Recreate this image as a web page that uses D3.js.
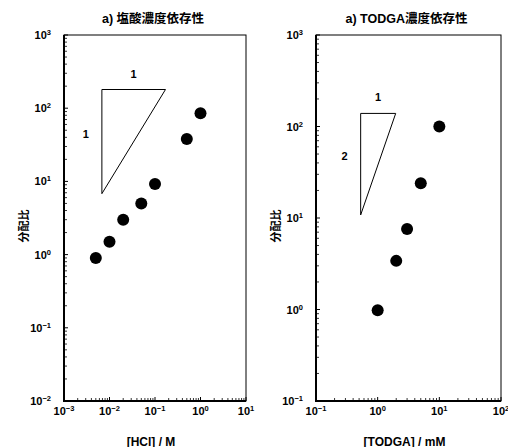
<!DOCTYPE html>
<html>
<head>
<meta charset="utf-8">
<script src="https://cdn.jsdelivr.net/npm/d3@7"></script>
<style>
  body { margin: 0; background: #fff; }
  text { font-family: "Liberation Sans", Arial, "Noto Sans CJK JP", sans-serif; font-weight: bold; }
</style>
</head>
<body>
<div id="chart"></div>
<script>
// left panel: HCl dependence
const hclConc = [0.005, 0.01, 0.02, 0.05, 0.1, 0.5, 1];
const hclD = [0.9, 1.5, 3.0, 5.0, 9.2, 38, 85];
const hclXTicks = [-3, -2, -1, 0, 1];
const hclYTicks = [-2, -1, 0, 1, 2, 3];
// slope guide (1:1) as [x, y] corners: bottom, top-left, top-right
const hclGuide = [[0.0068, 6.8], [0.0068, 180], [0.17, 180]];

// right panel: TODGA dependence
const todgaConc = [1, 2, 3, 5, 10];
const todgaD = [0.98, 3.4, 7.6, 24, 100];
const todgaXTicks = [-1, 0, 1, 2];
const todgaYTicks = [-1, 0, 1, 2, 3];
// slope guide (2:1)
const todgaGuide = [[0.53, 10.8], [0.53, 139], [1.96, 139]];

const width = 508;
const height = 447;

const svg = d3.select('#chart')
    .append('svg')
    .attr('width', width)
    .attr('height', height);

const sup = n => (n < 0 ? '\u2212' : '') + Math.abs(n);

const drawPanel = p => {
    const x = d3.scaleLog().domain(p.xDomain).range([p.left, p.right]);
    const y = d3.scaleLog().domain(p.yDomain).range([p.bottom, p.top]);
    const g = svg.append('g');

    // title
    g.append('text')
        .attr('x', (p.left + p.right) / 2 - 2)
        .attr('y', 23)
        .attr('text-anchor', 'middle')
        .style('font-size', '12.5px')
        .text(p.title);

    // frame
    g.append('rect')
        .attr('x', p.left).attr('y', p.top)
        .attr('width', p.right - p.left).attr('height', p.bottom - p.top)
        .attr('fill', 'none').attr('stroke', '#000').attr('stroke-width', 1);
    g.append('path')
        .attr('d', `M${p.left},${p.top}V${p.bottom}H${p.right}`)
        .attr('fill', 'none').attr('stroke', '#000').attr('stroke-width', 2);

    // ticks (inward), decades major, 2..9 minor
    const minor = (dom) => {
        const out = [];
        const lo = Math.round(Math.log10(dom[0])), hi = Math.round(Math.log10(dom[1]));
        for (let e = lo; e < hi; e++) {
            for (let k = 2; k <= 9; k++) out.push(k * Math.pow(10, e));
        }
        return out;
    };
    g.selectAll('.xmin').data(minor(p.xDomain)).enter().append('line')
        .attr('x1', d => x(d)).attr('x2', d => x(d))
        .attr('y1', p.bottom).attr('y2', p.bottom - 3)
        .attr('stroke', '#000').attr('stroke-width', 0.8);
    g.selectAll('.xmaj').data(p.xTicks).enter().append('line')
        .attr('x1', d => x(Math.pow(10, d))).attr('x2', d => x(Math.pow(10, d)))
        .attr('y1', p.bottom).attr('y2', p.bottom - 4)
        .attr('stroke', '#000').attr('stroke-width', 1);
    g.selectAll('.ymin').data(minor(p.yDomain)).enter().append('line')
        .attr('x1', p.left).attr('x2', p.left + 3)
        .attr('y1', d => y(d)).attr('y2', d => y(d))
        .attr('stroke', '#000').attr('stroke-width', 0.8);
    g.selectAll('.ymaj').data(p.yTicks).enter().append('line')
        .attr('x1', p.left).attr('x2', p.left + 4)
        .attr('y1', d => y(Math.pow(10, d))).attr('y2', d => y(Math.pow(10, d)))
        .attr('stroke', '#000').attr('stroke-width', 1);

    // tick labels
    const xl = g.selectAll('.xl').data(p.xTicks).enter().append('text')
        .attr('x', d => x(Math.pow(10, d)))
        .attr('y', p.bottom + 14)
        .attr('text-anchor', 'middle')
        .style('font-size', '11px');
    xl.append('tspan').text('10');
    xl.append('tspan').attr('dy', -4).style('font-size', '7.5px').text(d => sup(d));

    const yl = g.selectAll('.yl').data(p.yTicks).enter().append('text')
        .attr('x', p.left - 13)
        .attr('y', d => y(Math.pow(10, d)) + 4)
        .attr('text-anchor', 'end')
        .style('font-size', '11px');
    yl.append('tspan').text('10');
    yl.append('tspan').attr('dy', -4).style('font-size', '7.5px').text(d => sup(d));

    // axis titles
    g.append('text')
        .attr('x', (p.left + p.right) / 2 - 4)
        .attr('y', 446)
        .attr('text-anchor', 'middle')
        .style('font-size', '12px')
        .text(p.xTitle);
    g.append('text')
        .attr('transform', `translate(${p.left - 36},${226}) rotate(-90)`)
        .attr('text-anchor', 'middle')
        .style('font-size', '11px')
        .text('分配比');

    // slope guide
    g.append('path')
        .attr('d', d3.line().x(d => x(d[0])).y(d => y(d[1]))(p.guide) + 'Z')
        .attr('fill', 'none').attr('stroke', '#000').attr('stroke-width', 1);
    g.append('text')
        .attr('x', (x(p.guide[1][0]) + x(p.guide[2][0])) / 2)
        .attr('y', y(p.guide[1][1]) - 12)
        .attr('text-anchor', 'middle')
        .style('font-size', '11px')
        .text('1');
    g.append('text')
        .attr('x', x(p.guide[0][0]) - 16)
        .attr('y', (y(p.guide[0][1]) + y(p.guide[1][1])) / 2 - 4)
        .attr('text-anchor', 'middle')
        .style('font-size', '11px')
        .text(p.slope);

    // data
    g.selectAll('circle').data(p.xs).enter().append('circle')
        .attr('cx', d => x(d))
        .attr('cy', (d, i) => y(p.ys[i]))
        .attr('r', 6)
        .attr('fill', '#000');
};

drawPanel({
    title: 'a) 塩酸濃度依存性', xTitle: '[HCl] / M', slope: '1',
    left: 64, right: 246, top: 35, bottom: 401,
    xDomain: [1e-3, 1e1], yDomain: [1e-2, 1e3],
    xTicks: hclXTicks, yTicks: hclYTicks,
    xs: hclConc, ys: hclD, guide: hclGuide
});
drawPanel({
    title: 'a) TODGA濃度依存性', xTitle: '[TODGA] / mM', slope: '2',
    left: 316, right: 501, top: 35, bottom: 401,
    xDomain: [1e-1, 1e2], yDomain: [1e-1, 1e3],
    xTicks: todgaXTicks, yTicks: todgaYTicks,
    xs: todgaConc, ys: todgaD, guide: todgaGuide
});
</script>
</body>
</html>
